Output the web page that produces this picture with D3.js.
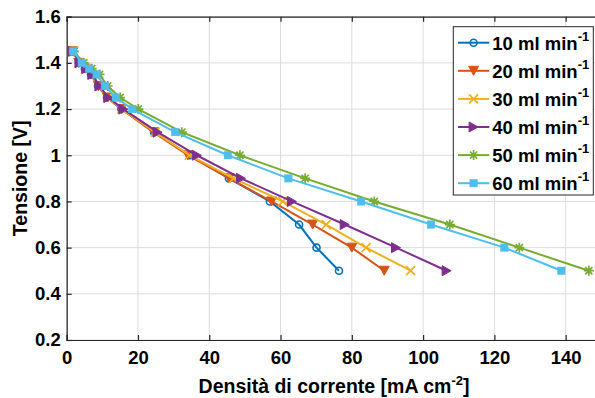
<!DOCTYPE html>
<html><head><meta charset="utf-8">
<script src="https://cdn.jsdelivr.net/npm/d3@7"></script>
<style>body{margin:0;background:#fff}svg{display:block}text{font-family:"Liberation Sans",Arial,sans-serif;font-weight:bold}</style>
</head><body><svg id="c" width="595" height="398"></svg>
<script>
const voltages = [1.45,1.4,1.375,1.35,1.3,1.25,1.2,1.1,1.0,0.9,0.8,0.7,0.6,0.5];
const seriesNames = ["10 ml min","20 ml min","30 ml min","40 ml min","50 ml min","60 ml min"];
const cur10 = [1.8,3.4,5.1,6.8,8.8,11.3,15.3,24.5,34.5,45.5,57.0,65.2,70.1,76.4];
const cur20 = [1.8,3.4,5.2,6.9,8.9,11.4,15.4,24.3,34.0,45.6,57.5,69.0,80.0,89.1];
const cur30 = [1.8,3.5,5.3,7.0,9.0,11.5,15.5,24.8,34.4,46.8,60.6,72.8,84.0,96.5];
const cur40 = [1.8,3.6,5.5,7.2,9.2,11.7,15.9,25.5,36.5,48.9,63.2,78.0,92.4,106.6];
const cur50 = [2.0,4.8,7.0,9.2,11.5,15.0,20.1,32.3,48.6,66.9,86.3,107.5,127.0,146.5];
const cur60 = [1.8,4.2,6.3,8.4,10.7,13.8,18.4,30.4,45.2,62.2,82.6,102.2,122.8,138.8];
const xTicks = [0,20,40,60,80,100,120,140];
const yTicks = [0.2,0.4,0.6,0.8,1.0,1.2,1.4,1.6];
const colors = ["#0072BD","#D95319","#EDB120","#7E2F8E","#77AC30","#4DBEEE"];
const markers = ["circle","tridown","x","triright","star","square"];
const currents = [cur10,cur20,cur30,cur40,cur50,cur60];

const svg = d3.select("#c");
const L=66.7, R=601.3, T=16.7, B=340;
const x = d3.scaleLinear().domain([0,150]).range([L,R]);
const y = d3.scaleLinear().domain([0.2,1.6]).range([B,T]);
const axisCol="#262626";

// grid
const g = svg.append("g");
g.selectAll(".gx").data(xTicks).join("line").attr("x1",d=>x(d)).attr("x2",d=>x(d)).attr("y1",T).attr("y2",B).attr("stroke","#dcdcdc").attr("stroke-width",1);
g.selectAll(".gy").data(yTicks).join("line").attr("x1",L).attr("x2",R).attr("y1",d=>y(d)).attr("y2",d=>y(d)).attr("stroke","#dcdcdc").attr("stroke-width",1);

const fs = 18.5;
// axes
const ax = svg.append("g").attr("transform",`translate(0,${B})`).call(d3.axisBottom(x).tickValues(xTicks).tickSize(-5).tickPadding(11).tickFormat(d3.format("d")));
const axT = svg.append("g").attr("transform",`translate(0,${T})`).call(d3.axisTop(x).tickValues(xTicks).tickSize(-5).tickFormat(""));
const ay = svg.append("g").attr("transform",`translate(${L},0)`).call(d3.axisLeft(y).tickValues(yTicks).tickSize(-5).tickPadding(6).tickFormat(d=>d===1?"1":d3.format(".1f")(d)));
[ax,axT,ay].forEach(a=>{a.select(".domain").attr("stroke",axisCol).attr("stroke-width",1.2);a.selectAll(".tick line").attr("stroke",axisCol).attr("stroke-width",1.2);a.selectAll("text").attr("fill","#000").style("font-size",fs+"px").style("font-family","Liberation Sans, Arial, sans-serif").style("font-weight","bold");});

function drawMarker(sel, type, color){
  if(type==="circle") sel.append("circle").attr("r",3.5).attr("fill","none").attr("stroke",color).attr("stroke-width",1.6);
  else if(type==="tridown") sel.append("path").attr("d","M-5,-4.5L5,-4.5L0,4.5Z").attr("fill",color).attr("stroke",color).attr("stroke-width",1);
  else if(type==="triright") sel.append("path").attr("d","M-4.5,-5L-4.5,5L4.5,0Z").attr("fill",color).attr("stroke",color).attr("stroke-width",1);
  else if(type==="x") sel.append("path").attr("d","M-4.5,-4.5L4.5,4.5M-4.5,4.5L4.5,-4.5").attr("fill","none").attr("stroke",color).attr("stroke-width",1.7);
  else if(type==="star") sel.append("path").attr("d","M-5,0L5,0M0,-5L0,5M-3.6,-3.6L3.6,3.6M-3.6,3.6L3.6,-3.6").attr("fill","none").attr("stroke",color).attr("stroke-width",1.7);
  else if(type==="square") sel.append("rect").attr("x",-3.7).attr("y",-3.7).attr("width",7.4).attr("height",7.4).attr("fill",color).attr("stroke",color).attr("stroke-width",0.5);
}

const plot = svg.append("g");
const line = d3.line().x(d=>x(d[0])).y(d=>y(d[1]));
currents.forEach((c,i)=>{
  const pts = c.map((v,j)=>[v,voltages[j]]);
  const sg = plot.append("g");
  sg.append("path").datum(pts).attr("d",line).attr("fill","none").attr("stroke",colors[i]).attr("stroke-width",2);
  pts.forEach(p=>{ const m = sg.append("g").attr("transform",`translate(${x(p[0])},${y(p[1])})`); drawMarker(m,markers[i],colors[i]); });
});

// axis labels
svg.append("text").attr("x",(L+R)/2).attr("y",393).attr("text-anchor","middle").style("font-size","19.5px")
  .call(t=>{t.append("tspan").text("Densità di corrente [mA cm");t.append("tspan").attr("dy",-8).style("font-size","13px").text("-2");t.append("tspan").attr("dy",8).text("]");});
svg.append("text").attr("transform",`translate(27,${(T+B)/2}) rotate(-90)`).attr("text-anchor","middle").style("font-size","19.5px").text("Tensione [V]");

// legend
const lg = svg.append("g");
lg.append("rect").attr("x",453.3).attr("y",26.7).attr("width",140).attr("height",168.3).attr("fill","#fff").attr("stroke",axisCol).attr("stroke-width",1);
seriesNames.forEach((n,i)=>{
  const cy = 42.7 + i*28.1;
  lg.append("line").attr("x1",458).attr("x2",489.3).attr("y1",cy).attr("y2",cy).attr("stroke",colors[i]).attr("stroke-width",2);
  const m = lg.append("g").attr("transform",`translate(473.6,${cy})`); drawMarker(m,markers[i],colors[i]);
  lg.append("text").attr("x",492.3).attr("y",cy+7).style("font-size","18.5px")
    .call(t=>{t.append("tspan").text(n);t.append("tspan").attr("dy",-9).style("font-size","13px").text("-1");});
});
</script></body></html>
